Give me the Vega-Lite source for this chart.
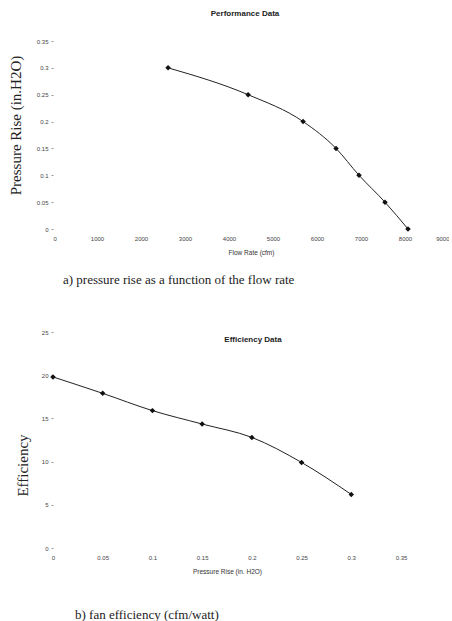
{
  "$schema": "https://vega.github.io/schema/vega-lite/v6.json",
  "padding": {"left": 8, "top": 10, "right": 0, "bottom": 0},
  "background": "white",
  "spacing": 42,
  "config": {
    "view": {"stroke": null},
    "font": "Liberation Sans",
    "axis": {
      "grid": false,
      "domain": false,
      "format": "~r",
      "labelFlush": false,
      "labelFont": "Liberation Sans",
      "labelFontSize": 6,
      "labelColor": "#444",
      "titleFont": "Liberation Sans",
      "titleFontSize": 6.5,
      "titleFontWeight": "normal",
      "titleColor": "#333"
    },
    "axisX": {"ticks": false, "tickSize": 0, "labelPadding": 6, "titlePadding": 8},
    "axisY": {"ticks": true, "tickSize": 2, "tickColor": "#999", "labelPadding": 3,
      "titleFont": "Liberation Serif", "titleFontSize": 15, "titleColor": "#222",
      "titleAlign": "center", "titleBaseline": "middle"},
    "title": {"font": "Liberation Sans", "fontSize": 8, "fontWeight": "bold", "color": "#222"}
  },
  "vconcat": [
    {
      "title": {"text": "a)  pressure rise as a function of the flow rate", "orient": "bottom", "anchor": "start",
        "font": "Liberation Serif", "fontSize": 13, "fontWeight": "normal", "color": "#222", "dx": 55, "offset": 18},
      "vconcat": [
        {
          "title": {"text": "Performance Data", "offset": 20, "dx": -6},
          "width": 396,
          "height": 188,
          "data": {"values": [
            {"flow": 2615, "pressure": 0.30},
            {"flow": 4435, "pressure": 0.25},
            {"flow": 5684, "pressure": 0.20},
            {"flow": 6433, "pressure": 0.15},
            {"flow": 6955, "pressure": 0.10},
            {"flow": 7545, "pressure": 0.05},
            {"flow": 8068, "pressure": 0.00}
          ]},
          "encoding": {
            "x": {"field": "flow", "type": "quantitative",
              "scale": {"domain": [0, 9000], "nice": false},
              "axis": {"title": "Flow Rate (cfm)", "values": [0,1000,2000,3000,4000,5000,6000,7000,8000,9000], "labelFlush": true}},
            "y": {"field": "pressure", "type": "quantitative",
              "scale": {"domain": [0, 0.35], "nice": false},
              "axis": {"title": "Pressure Rise (in.H2O)", "values": [0,0.05,0.1,0.15,0.2,0.25,0.3,0.35],
                "titleX": -38, "titleY": 84}}
          },
          "layer": [
            {"mark": {"type": "line", "interpolate": "monotone", "color": "#222", "strokeWidth": 1}},
            {"mark": {"type": "point", "shape": "diamond", "filled": true, "color": "#111", "size": 30, "opacity": 1}}
          ]
        }
      ]
    },
    {
      "title": {"text": "b)  fan efficiency (cfm/watt)", "orient": "bottom", "anchor": "start",
        "font": "Liberation Serif", "fontSize": 13, "fontWeight": "normal", "color": "#222", "dx": 60, "offset": 34},
      "vconcat": [
        {
          "title": {"text": "Efficiency Data", "offset": -15, "dx": 26},
          "width": 348,
          "height": 216,
          "data": {"values": [
            {"rise": 0.00, "eff": 19.8},
            {"rise": 0.05, "eff": 17.9},
            {"rise": 0.10, "eff": 15.9},
            {"rise": 0.15, "eff": 14.35},
            {"rise": 0.20, "eff": 12.8},
            {"rise": 0.25, "eff": 9.9},
            {"rise": 0.30, "eff": 6.2}
          ]},
          "encoding": {
            "x": {"field": "rise", "type": "quantitative",
              "scale": {"domain": [0, 0.35], "nice": false},
              "axis": {"title": "Pressure Rise (in. H2O)", "values": [0,0.05,0.1,0.15,0.2,0.25,0.3,0.35], "labelPadding": 6}},
            "y": {"field": "eff", "type": "quantitative",
              "scale": {"domain": [0, 25], "nice": false},
              "axis": {"title": "Efficiency", "values": [0,5,10,15,20,25],
                "titleX": -31, "titleY": 133}}
          },
          "layer": [
            {"mark": {"type": "line", "interpolate": "monotone", "color": "#222", "strokeWidth": 1}},
            {"mark": {"type": "point", "shape": "diamond", "filled": true, "color": "#111", "size": 30, "opacity": 1}}
          ]
        }
      ]
    }
  ]
}
